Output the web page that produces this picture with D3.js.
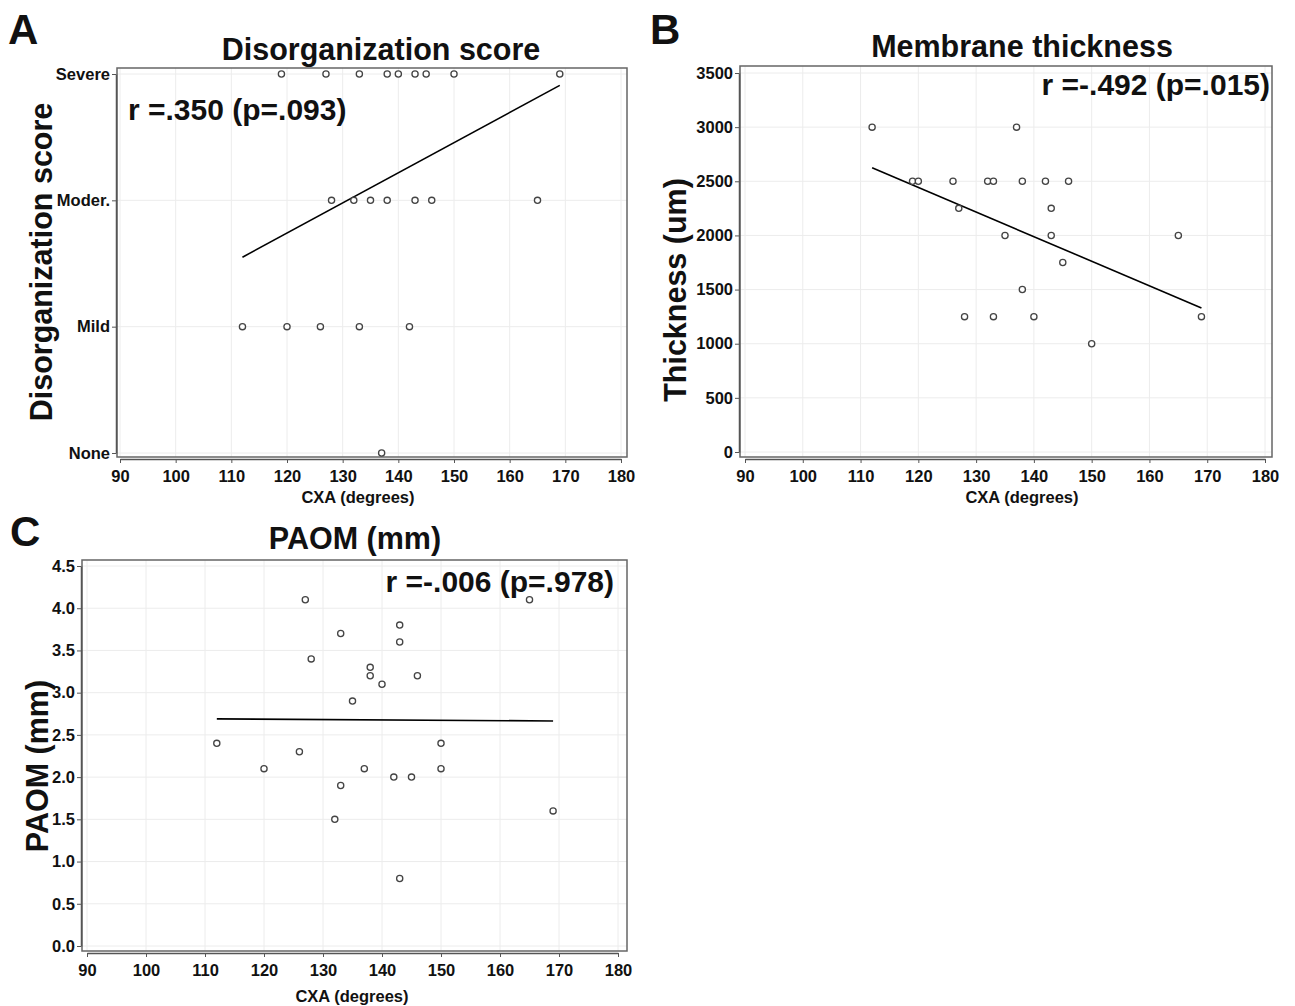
<!DOCTYPE html>
<html><head><meta charset="utf-8">
<script src="https://cdn.jsdelivr.net/npm/d3@7"></script>
<style>
body{margin:0;background:#fff;}
svg text{font-family:"Liberation Sans",Arial,sans-serif;font-weight:bold;fill:#111;}
</style></head>
<body><svg id="c" width="1295" height="1006"></svg>
<script>
// ---- data ----
const xTicks = [90,100,110,120,130,140,150,160,170,180];
const scoreLabels = ["None","Mild","Moder.","Severe"];
const scoreTicks = [0,1,2,3];
const cxaA = [119,127,133,138,140,143,145,150,169, 128,132,135,138,143,146,165, 112,120,126,133,142, 137];
const scoreA = [3,3,3,3,3,3,3,3,3, 2,2,2,2,2,2,2, 1,1,1,1,1, 0];
const fitAx = [112,169], fitAy = [1.55,2.91];

const thickTicks = [0,500,1000,1500,2000,2500,3000,3500];
const cxaB = [112,137,119,120,126,132,133,138,142,146,127,143,135,143,165,145,138,128,133,140,169,150];
const thickB = [3000,3000,2500,2500,2500,2500,2500,2500,2500,2500,2250,2250,2000,2000,2000,1750,1500,1250,1250,1250,1250,1000];
const fitBx = [112,169], fitBy = [2625,1330];

const paomTicks = [0,0.5,1,1.5,2,2.5,3,3.5,4,4.5];
const cxaC = [127,165,133,143,143,128,138,138,140,146,135,112,150,126,120,137,150,142,145,133,132,169,143];
const paomC = [4.1,4.1,3.7,3.8,3.6,3.4,3.3,3.2,3.1,3.2,2.9,2.4,2.4,2.3,2.1,2.1,2.1,2.0,2.0,1.9,1.5,1.6,0.8];
const fitCx = [112,169], fitCy = [2.69,2.665];

// ---- drawing ----
const svg = d3.select("#c");

function panel(cfg){
  const g = svg.append("g");
  const x = d3.scaleLinear().domain([90,180]).range(cfg.xr);
  const y = d3.scaleLinear().domain(cfg.yd).range(cfg.yr);
  // grid
  g.selectAll(".gx").data(xTicks).join("line")
    .attr("x1",d=>x(d)).attr("x2",d=>x(d)).attr("y1",cfg.top).attr("y2",cfg.bottom)
    .attr("stroke","#ececec").attr("stroke-width",1);
  g.selectAll(".gy").data(cfg.yTicks).join("line")
    .attr("y1",d=>y(d)).attr("y2",d=>y(d)).attr("x1",cfg.left).attr("x2",cfg.right)
    .attr("stroke","#ececec").attr("stroke-width",1);
  // frame
  g.append("rect").attr("x",cfg.left).attr("y",cfg.top)
    .attr("width",cfg.right-cfg.left).attr("height",cfg.bottom-cfg.top)
    .attr("fill","none").attr("stroke","#666").attr("stroke-width",1.5);
  // axes
  const ax = g.append("g").attr("transform",`translate(0,${cfg.bottom+2})`)
    .call(d3.axisBottom(x).tickValues(xTicks).tickSize(4).tickSizeOuter(0));
  const ay = g.append("g").attr("transform",`translate(${cfg.left-1},0)`)
    .call(d3.axisLeft(y).tickValues(cfg.yTicks).tickFormat(cfg.yFmt).tickSize(4).tickSizeOuter(0));
  [ax,ay].forEach(a=>{
    a.select(".domain").attr("stroke","#555").attr("stroke-width",1.5);
    a.selectAll(".tick line").attr("stroke","#555");
    a.selectAll("text").attr("font-size",16.5).attr("font-family","Liberation Sans, Arial, sans-serif")
      .attr("font-weight","bold").attr("fill","#111");
  });
  ax.selectAll("text").attr("dy","0.95em");
  ay.selectAll("text").attr("dx","1px");
  // fit line
  g.append("line").attr("x1",x(cfg.fx[0])).attr("x2",x(cfg.fx[1]))
    .attr("y1",y(cfg.fy[0])).attr("y2",y(cfg.fy[1]))
    .attr("stroke","#000").attr("stroke-width",1.6);
  // points
  g.selectAll("circle").data(cfg.xs).join("circle")
    .attr("cx",d=>x(d)).attr("cy",(d,i)=>y(cfg.ys[i])).attr("r",3.1)
    .attr("fill","#fff").attr("stroke","#444").attr("stroke-width",1.3);
  // texts
  g.append("text").attr("x",cfg.letter[0]).attr("y",cfg.letter[1]).attr("font-size",42).text(cfg.letterText);
  g.append("text").attr("x",cfg.title[0]).attr("y",cfg.title[1]).attr("font-size",30.5)
    .attr("text-anchor","middle").text(cfg.titleText);
  g.append("text").attr("transform",`translate(${cfg.ylab[0]},${cfg.ylab[1]}) rotate(-90)`)
    .attr("font-size",30.5).attr("text-anchor","middle").text(cfg.ylabText);
  g.append("text").attr("x",cfg.xlab[0]).attr("y",cfg.xlab[1]).attr("font-size",16.5)
    .attr("text-anchor","middle").text("CXA (degrees)");
  g.append("text").attr("x",cfg.r[0]).attr("y",cfg.r[1]).attr("font-size",30)
    .attr("text-anchor",cfg.rAnchor).text(cfg.rText);
}

panel({left:117,top:68,right:627,bottom:457,xr:[120,621],yd:[0,3],yr:[453,74],
  yTicks:scoreTicks,yFmt:d=>scoreLabels[d],xs:cxaA,ys:scoreA,fx:fitAx,fy:fitAy,
  letter:[8,44],letterText:"A",title:[381,60],titleText:"Disorganization score",
  ylab:[52,262],ylabText:"Disorganization score",xlab:[358,503],
  r:[128,120],rAnchor:"start",rText:"r =.350 (p=.093)"});

panel({left:740,top:66,right:1272,bottom:457,xr:[745,1265],yd:[0,3500],yr:[452,73],
  yTicks:thickTicks,yFmt:d=>d,xs:cxaB,ys:thickB,fx:fitBx,fy:fitBy,
  letter:[650,44],letterText:"B",title:[1022,57],titleText:"Membrane thickness",
  ylab:[686,290],ylabText:"Thickness (um)",xlab:[1022,503],
  r:[1270,95],rAnchor:"end",rText:"r =-.492 (p=.015)"});

panel({left:82,top:560,right:627,bottom:951,xr:[87,618],yd:[0,4.5],yr:[946,566],
  yTicks:paomTicks,yFmt:d3.format(".1f"),xs:cxaC,ys:paomC,fx:fitCx,fy:fitCy,
  letter:[10,546],letterText:"C",title:[355,549],titleText:"PAOM (mm)",
  ylab:[48,766],ylabText:"PAOM (mm)",xlab:[352,1002],
  r:[614,592],rAnchor:"end",rText:"r =-.006 (p=.978)"});
</script></body></html>
